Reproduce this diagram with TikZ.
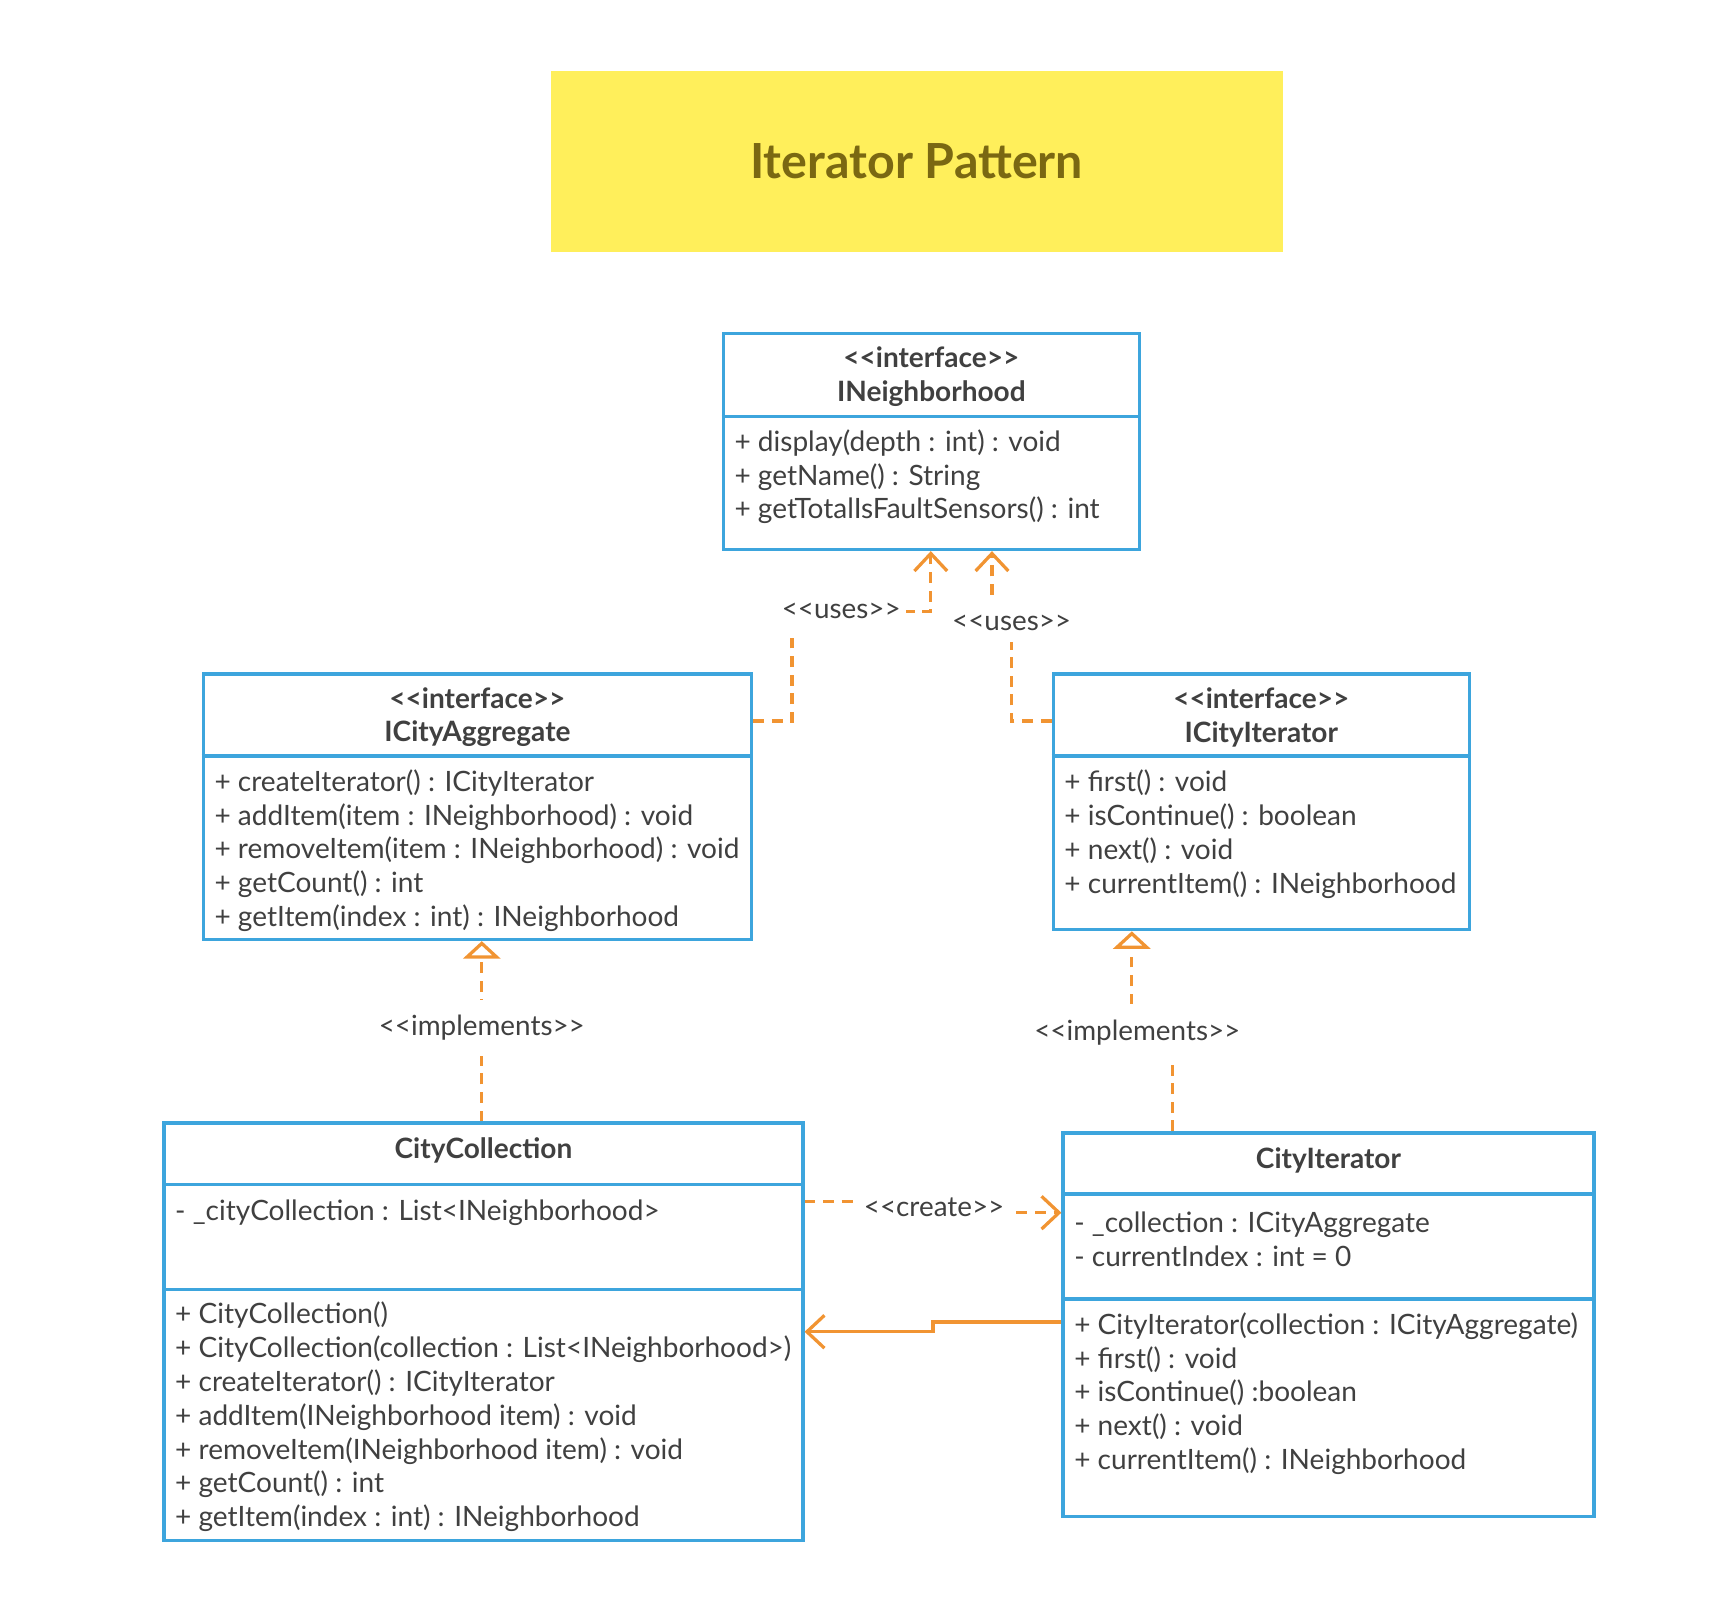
\documentclass[tikz,border=0pt]{standalone}
\usepackage{fontspec}
\setmainfont{Lato}
\usepackage{tikz}
\usetikzlibrary{arrows.meta,positioning,calc}
\definecolor{umlblue}{RGB}{61,165,221}
\definecolor{umlorange}{RGB}{241,148,50}
\definecolor{umlyellow}{RGB}{255,239,91}
\definecolor{umlolive}{RGB}{122,104,18}
\definecolor{umltext}{RGB}{64,64,64}
\tikzset{>={Straight Barb[length=3.2mm,width=6mm]}}
\tikzset{
    classbox/.style={draw=umlblue,line width=1.7pt,fill=white,inner sep=0pt},
    classline/.style={draw=umlblue,line width=1.7pt},
    header/.style={align=center,inner sep=0pt,text=umltext,font=\bfseries\fontsize{14.6}{17.6}\selectfont},
    members/.style={anchor=west,align=left,inner sep=0pt,text=umltext,font=\fontsize{14.6}{17.6}\selectfont},
    lbl/.style={fill=white,inner xsep=3pt,inner ysep=6pt,text=umltext,font=\fontsize{14.5}{17}\selectfont},
    dashedline/.style={dash pattern=on 0.2cm off 0.14cm},
}

\begin{document}
\begin{tikzpicture}[x=0.02cm,y=-0.02cm]
    \useasboundingbox (0,0) rectangle (1568,1465);

    \node [fill=umlyellow,minimum width=13.4cm,minimum height=3.32cm,text=umlolive,
        font=\bfseries\fontsize{25.2}{30}\selectfont] (title) at (839,148) {Iterator Pattern};

    % interfaces
    \node [classbox,minimum width=7.62cm,minimum height=3.96cm] (nbh) at (852.5,404) {};
    \node [header] (nbh-name) at (852.5,345) {{<}{<}interface{>}{>}\\INeighborhood};
    \draw [classline] (nbh.west |- 0,381) -- (nbh.east |- 0,381);
    \node [members] (nbh-ops) at (672,436.5) {+ display(depth : int) : void\\+ getName() : String\\+ getTotalIsFaultSensors() : int};

    \node [classbox,minimum width=10.04cm,minimum height=4.86cm] (agg) at (437,738.5) {};
    \node [header] (agg-name) at (437,656.5) {{<}{<}interface{>}{>}\\ICityAggregate};
    \draw [classline] (agg.west |- 0,692) -- (agg.east |- 0,692);
    \node [members] (agg-ops) at (196,778.5) {+ createIterator() : ICityIterator\\+ addItem(item : INeighborhood) : void\\+ removeItem(item : INeighborhood) : void\\+ getCount() : int\\+ getItem(index : int) : INeighborhood};

    \node [classbox,minimum width=7.62cm,minimum height=4.68cm] (iti) at (1154.5,734) {};
    \node [header] (iti-name) at (1154.5,656.5) {{<}{<}interface{>}{>}\\ICityIterator};
    \draw [classline] (iti.west |- 0,692) -- (iti.east |- 0,692);
    \node [members] (iti-ops) at (974,763.5) {+ first() : void\\+ isContinue() : boolean\\+ next() : void\\+ currentItem() : INeighborhood};

    % classes
    \node [classbox,minimum width=11.7cm,minimum height=7.64cm] (coll) at (442.5,1219) {};
    \node [header] (coll-name) at (442.5,1053) {CityCollection};
    \draw [classline] (coll.west |- 0,1084) -- (coll.east |- 0,1084);
    \draw [classline] (coll.west |- 0,1180) -- (coll.east |- 0,1180);
    \node [members] (coll-attr) at (160,1110) {- \_cityCollection : List<INeighborhood>};
    \node [members] (coll-ops) at (160,1297) {+ CityCollection()\\+ CityCollection(collection : List<INeighborhood>)\\+ createIterator() : ICityIterator\\+ addItem(INeighborhood item) : void\\+ removeItem(INeighborhood item) : void\\+ getCount() : int\\+ getItem(index : int) : INeighborhood};

    \node [classbox,minimum width=9.72cm,minimum height=7.02cm] (cit) at (1216,1212.5) {};
    \node [header] (cit-name) at (1216,1062) {CityIterator};
    \draw [classline] (cit.west |- 0,1093) -- (cit.east |- 0,1093);
    \draw [classline] (cit.west |- 0,1189) -- (cit.east |- 0,1189);
    \node [members] (cit-attr) at (983,1134.5) {- \_collection : ICityAggregate\\- currentIndex : int = 0};
    \node [members] (cit-ops) at (983,1275.5) {+ CityIterator(collection : ICityAggregate)\\+ first() : void\\+ isContinue() :boolean\\+ next() : void\\+ currentItem() : INeighborhood};

    \begin{scope}[line width=1.7pt,color=umlorange]
    \draw[->,dashedline] (agg.east |- 0,660) -- (725,660) -- (725,560) -- (852,560) -- (852,0 |- nbh.south);
    \draw[->,dashedline] (iti.west |- 0,660) -- (926,660) -- (926,569) -- (908,569) -- (908,0 |- nbh.south);
    \draw[-{Triangle[open,fill=white,length=3.2mm,width=6.8mm]},dashedline] (441,0 |- coll.north) -- (441,0 |- agg.south);
    \draw[-{Triangle[open,fill=white,length=3.2mm,width=6.8mm]},dashedline] (1073,0 |- cit.north) -- (1073,944) -- (1036,944) -- (1036,0 |- iti.south);
    \draw[->,dashedline] (coll.east |- 0,1100) -- (855,1100) -- (855,1110) -- (cit.west |- 0,1110);
    \draw[->] (cit.west |- 0,1210) -- (854,1210) -- (854,1219) -- (coll.east |- 0,1219);
    \end{scope}

    \node [lbl] (uses-agg) at (770,559) {{<}{<}uses{>}{>}};
    \node [lbl] (uses-iti) at (926,570) {{<}{<}uses{>}{>}};
    \node [lbl,inner ysep=8pt] (impl-coll) at (441,941) {{<}{<}implements{>}{>}};
    \node [lbl,inner ysep=8pt] (impl-cit) at (1041,945) {{<}{<}implements{>}{>}};
    \node [lbl,inner xsep=5pt] (create) at (855,1105) {{<}{<}create{>}{>}};

\end{tikzpicture}
\end{document}
